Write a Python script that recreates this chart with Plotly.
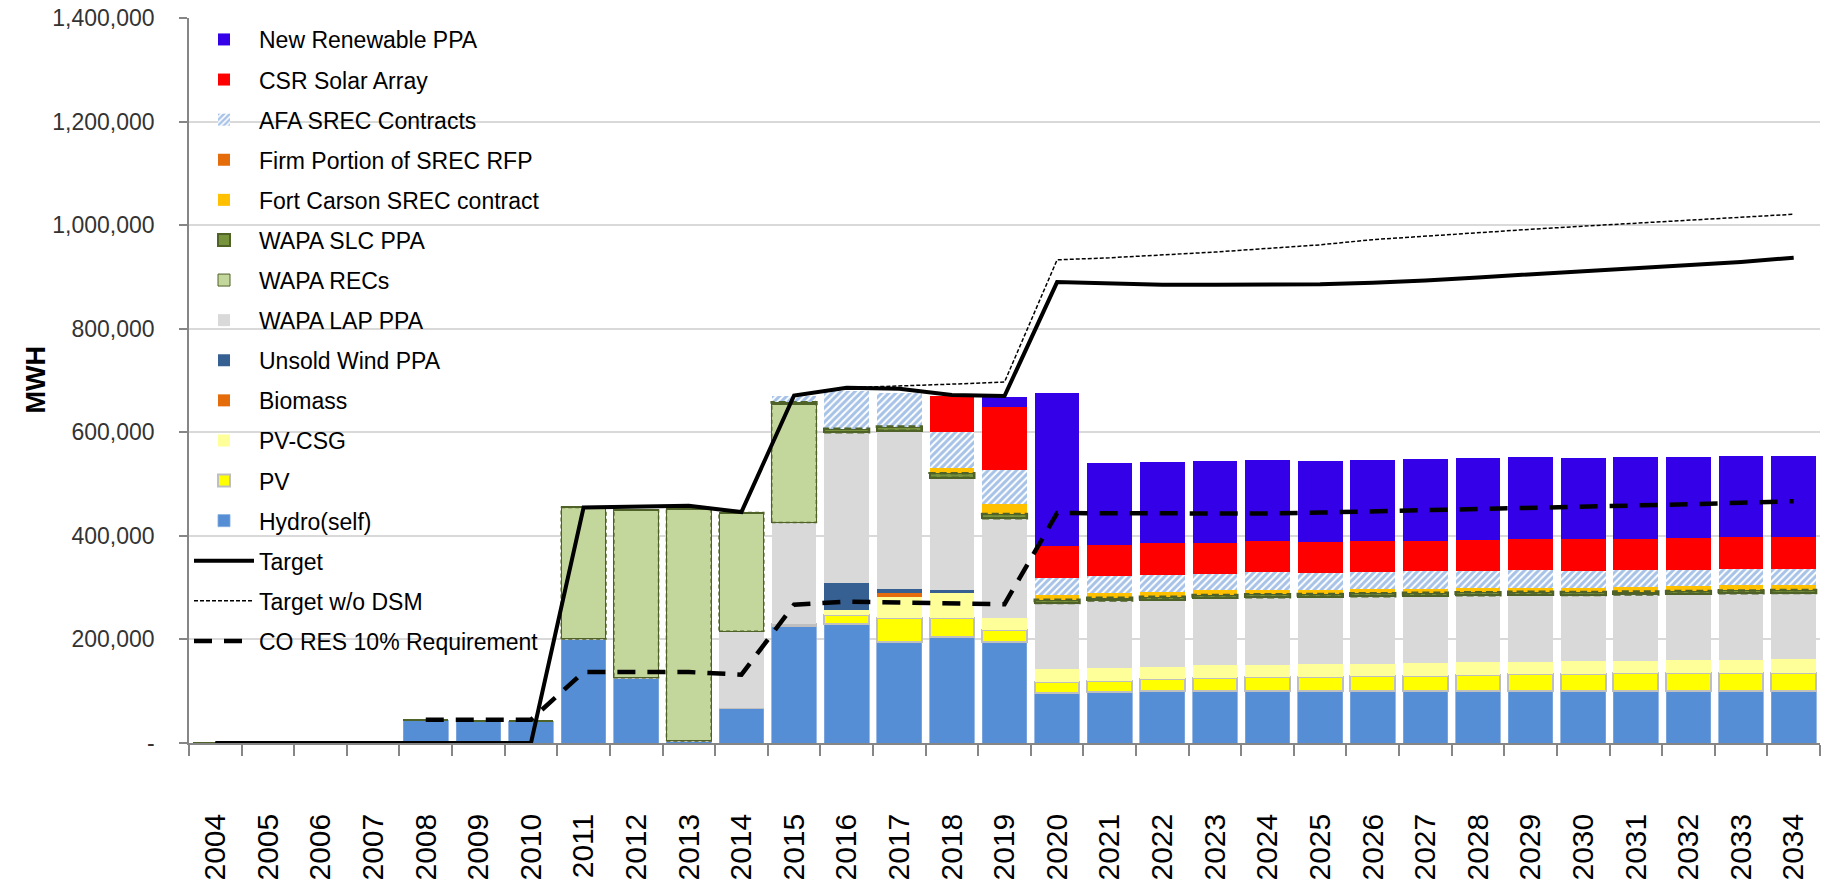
import plotly.graph_objects as go

years = list(range(2004, 2035))

# ---- stacked bar series (MWh), stacking order bottom -> top ----
hydro = [0, 0, 0, 0, 45000, 43000, 43000, 201000, 126000, 4000, 67000,
         226000, 229000, 195000, 205000, 195000,
         97000, 99000, 101000, 101000, 101000, 101000, 101000, 101000, 101000,
         101000, 101000, 101000, 101000, 101000, 101000]
pv = [0, 0, 0, 0, 0, 0, 0, 0, 0, 0, 0,
      4000, 18000, 46000, 36000, 23000,
      21000, 20500, 22300, 24800, 26700, 26700, 28600, 28600, 30000,
      32000, 33000, 33500, 34000, 34500, 34900]
pv_csg = [0, 0, 0, 0, 0, 0, 0, 0, 0, 0, 0,
          0, 9000, 41000, 49000, 23000,
          25400, 26000, 23500, 24200, 22300, 24200, 22900, 24800, 25300,
          24000, 23500, 24000, 24500, 25000, 25600]
biomass = [0, 0, 0, 0, 0, 0, 0, 0, 0, 0, 0,
           0, 0, 8000, 0, 0,
           0, 0, 0, 0, 0, 0, 0, 0, 0, 0, 0, 0, 0, 0, 0]
unsold_wind = [0, 0, 0, 0, 0, 0, 0, 0, 0, 0, 0,
               0, 53000, 8000, 6000, 0,
               0, 0, 0, 0, 0, 0, 0, 0, 0, 0, 0, 0, 0, 0, 0]
wapa_lap = [0, 0, 0, 0, 0, 0, 0, 0, 0, 0, 149000,
            196000, 291000, 305000, 216000, 193000,
            127100, 129700, 130200, 130300, 131600, 130300, 131000, 130300, 129200,
            129700, 128500, 128500, 128500, 128500, 128300]
wapa_recs = [0, 0, 0, 0, 0, 0, 0, 254000, 324000, 448000, 229000,
             229000, 0, 0, 0, 0,
             0, 0, 0, 0, 0, 0, 0, 0, 0, 0, 0, 0, 0, 0, 0]
wapa_slc = [0, 0, 0, 0, 0, 0, 0, 0, 0, 0, 0,
            3000, 7000, 8000, 9000, 8000,
            6000, 5500, 5500, 5500, 5500, 5500, 5500, 5500, 5500,
            5500, 5500, 5500, 5500, 5500, 5500]
fort_carson = [0, 0, 0, 0, 0, 0, 0, 0, 0, 0, 0,
               0, 0, 0, 10000, 20000,
               10000, 9500, 9500, 9000, 8500, 8500, 8000, 7500, 7500,
               8000, 8500, 9000, 9500, 10000, 10500]
firm_srec = [0] * 31
afa_srec = [0, 0, 0, 0, 0, 0, 0, 0, 0, 0, 0,
            13000, 73000, 64000, 69000, 65000,
            31800, 33000, 32400, 31800, 33800, 31900, 32800, 33700, 33100,
            33100, 32500, 32000, 31500, 31000, 30500]
csr_solar = [0, 0, 0, 0, 0, 0, 0, 0, 0, 0, 0,
             0, 0, 0, 71000, 122000,
             61600, 59100, 61000, 60400, 60300, 59700, 60400, 59100, 60300,
             61000, 61200, 61400, 61500, 61700, 61800]
new_renewable = [0, 0, 0, 0, 0, 0, 0, 0, 0, 0, 0,
                 0, 0, 0, 0, 19000,
                 296300, 159000, 157700, 157600, 157600, 157600, 157000, 158300, 159000,
                 158200, 157500, 157500, 157000, 157000, 156900]

# ---- line series ----
target = [0, 0, 0, 0, 0, 0, 0, 455000, 456000, 458000, 446000,
          671000, 686000, 684000, 672000, 670000,
          890000, 887000, 885000, 885000, 886000, 886000, 889000, 893000, 899000,
          905000, 911000, 917000, 923000, 929000, 937000]
target_wo_dsm = [0, 0, 0, 0, 0, 0, 0, 455000, 456000, 458000, 446000,
                 671000, 686000, 689000, 693000, 697000,
                 933000, 937000, 942000, 948000, 955000, 962000, 972000, 979000, 986000,
                 992000, 998000, 1004000, 1009000, 1015000, 1021000]
co_res = [None, None, None, None, 45000, 45000, 45000, 137000, 137000, 137000, 132000,
          267000, 273000, 271000, 268000, 268000,
          444000, 444000, 442000, 442000, 443000, 445000, 447000, 449000, 451000,
          453000, 456000, 459000, 461000, 464000, 467000]

y_tickvals = [0, 200000, 400000, 600000, 800000, 1000000, 1200000, 1400000]
y_ticktext = ["-", "200,000", "400,000", "600,000", "800,000", "1,000,000", "1,200,000", "1,400,000"]

FONT = "Liberation Sans"
BW = 0.85

fig = go.Figure()

bar_specs = [
    ("Hydro(self)", hydro, dict(color="#558ED5", line=dict(color="#7FA9DE", width=0.8)), 13),
    ("PV", pv, dict(color="#FFFF00", line=dict(color="#BFBFBF", width=2)), 12),
    ("PV-CSG", pv_csg, dict(color="#FFFF99", line=dict(width=0)), 11),
    ("Biomass", biomass, dict(color="#E46C0A", line=dict(width=0)), 10),
    ("Unsold Wind PPA", unsold_wind, dict(color="#376092", line=dict(width=0)), 9),
    ("WAPA LAP PPA", wapa_lap, dict(color="#D9D9D9", line=dict(width=0)), 8),
    ("WAPA RECs", wapa_recs, dict(color="#C3D69B", line=dict(color="#4F6228", width=1)), 7),
    ("WAPA SLC PPA", wapa_slc, dict(color="#77933C", line=dict(color="#4F6228", width=2)), 6),
    ("Fort Carson SREC contract", fort_carson, dict(color="#FFC000", line=dict(width=0)), 5),
    ("Firm Portion of SREC RFP", firm_srec, dict(color="#E46C0A", line=dict(width=0)), 4),
    ("AFA SREC Contracts", afa_srec, dict(color="white", line=dict(width=0),
                                           pattern=dict(shape="/", fgcolor="#4F86D0", bgcolor="white",
                                                        size=5, solidity=0.6)), 3),
    ("CSR Solar Array", csr_solar, dict(color="#FF0000", line=dict(width=0)), 2),
    ("New Renewable PPA", new_renewable, dict(color="#3300E8", line=dict(width=0)), 1),
]

for name, vals, marker, rank in bar_specs:
    fig.add_trace(go.Bar(x=years, y=vals, name=name, marker=marker, width=BW,
                         legendrank=rank, legendgroup=name))


def cum(*series):
    return [sum(v) for v in zip(*series)]


recs_base = cum(hydro, pv, pv_csg, biomass, unsold_wind, wapa_lap)
slc_base = cum(hydro, pv, pv_csg, biomass, unsold_wind, wapa_lap, wapa_recs)


def outline(values, base, hw=BW / 2):
    xs, ys = [], []
    for yr, v, b in zip(years, values, base):
        if v > 0:
            xs += [yr - hw, yr + hw, yr + hw, yr - hw, yr - hw, None]
            ys += [b, b, b + v, b + v, b, None]
    return xs, ys


ox, oy = outline(wapa_recs, recs_base)
fig.add_trace(go.Scatter(x=ox, y=oy, mode="lines", showlegend=False, hoverinfo="skip",
                         line=dict(color="#4F6228", width=1.5, dash="4px,3px")))
ox, oy = outline(wapa_slc, slc_base)
fig.add_trace(go.Scatter(x=ox, y=oy, mode="lines", showlegend=False, hoverinfo="skip",
                         line=dict(color="#4F6228", width=2.5, dash="7px,4px")))

fig.add_trace(go.Scatter(x=years, y=target, name="Target", mode="lines", cliponaxis=False,
                         line=dict(color="black", width=4), legendrank=14, legendgroup="t1"))
fig.add_trace(go.Scatter(x=years, y=target_wo_dsm, name="Target w/o DSM", mode="lines", cliponaxis=False,
                         line=dict(color="black", width=1.5, dash="4px,2px"), legendrank=15, legendgroup="t2"))
fig.add_trace(go.Scatter(x=years, y=co_res, name="CO RES 10% Requirement", mode="lines", cliponaxis=False,
                         line=dict(color="black", width=4.5, dash="18px,12px"), legendrank=16, legendgroup="t3"))

fig.update_layout(
    width=1825, height=886,
    margin=dict(l=189, r=5, t=17, b=134),
    barmode="stack",
    plot_bgcolor="white", paper_bgcolor="white",
    font=dict(family=FONT, color="black"),
    showlegend=True,
    legend=dict(x=0.0, y=1.0, xanchor="left", yanchor="top",
                bgcolor="rgba(0,0,0,0)", font=dict(size=23, color="black", family=FONT),
                traceorder="grouped", tracegroupgap=7.2, itemwidth=60),
    xaxis=dict(type="linear", range=[2003.5, 2034.5], tickmode="array", tickvals=years,
               ticktext=[str(y) for y in years], ticks="", tickangle=-90,
               tickfont=dict(size=30, color="black", family=FONT), ticklabelstandoff=57,
               showline=True, linecolor="#868686", linewidth=1.5, showgrid=False, zeroline=False,
               minor=dict(tickmode="array", tickvals=[y - 0.5 for y in years] + [2034.5],
                          ticks="outside", ticklen=11, tickcolor="#868686", tickwidth=1.5)),
    yaxis=dict(range=[0, 1400000], tickmode="array", tickvals=y_tickvals, ticktext=y_ticktext,
               ticks="outside", ticklen=8, tickcolor="#868686", tickwidth=1.5,
               tickfont=dict(size=23, color="#333333", family=FONT), ticklabelstandoff=20,
               showline=True, linecolor="#868686", linewidth=1.5,
               showgrid=True, gridcolor="#D9D9D9", gridwidth=1.5, zeroline=False),
    annotations=[dict(text="<b>MWH</b>", xref="paper", yref="paper", x=0, y=0.5,
                      xanchor="center", yanchor="middle", xshift=-154, textangle=-90,
                      showarrow=False, font=dict(size=27, color="black", family=FONT))],
)

fig.write_html("out.html", config={"displayModeBar": False},
               post_script="document.body.style.margin='0';")
